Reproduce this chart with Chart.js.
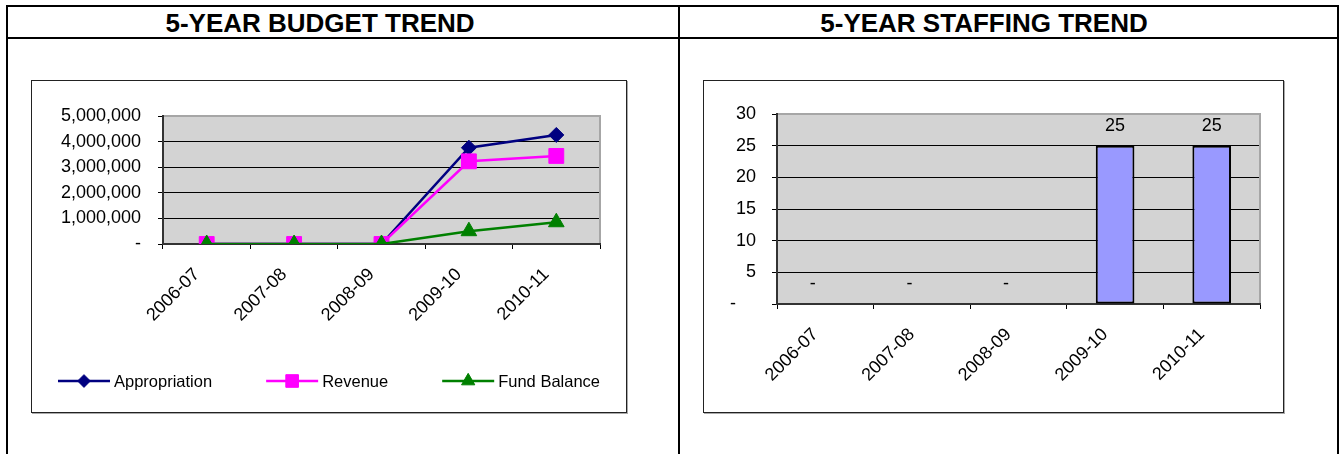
<!DOCTYPE html>
<html>
<head>
<meta charset="utf-8">
<script src="https://cdn.jsdelivr.net/npm/chart.js@4.4.1/dist/chart.umd.min.js"></script>
<style>
  html, body { margin: 0; padding: 0; background: #fff; overflow: hidden; }
  body { width: 1340px; height: 454px; position: relative; font-family: 'Liberation Sans', Arial, sans-serif; }
  .frame { position: absolute; left: 6px; top: 5px; width: 1333px; height: 520px; border: 2px solid #000; border-bottom: none; box-sizing: border-box; }
  .hline { position: absolute; left: 6px; top: 37px; width: 1333px; height: 2px; background: #000; }
  .vline { position: absolute; left: 678px; top: 5px; width: 2px; height: 520px; background: #000; }
  .title { position: absolute; top: 8px; font-size: 26px; line-height: 30px; font-weight: bold; text-align: center; white-space: nowrap; }
  .box { position: absolute; top: 80px; height: 333px; border: 1px solid #222; box-sizing: border-box; box-shadow: 1px 1px 0 #aaa; background: #fff; }
  .box canvas { display: block; }
</style>
</head>
<body>
<div class="frame"></div>
<div class="hline"></div>
<div class="vline"></div>
<div class="title" style="left:7px;width:626px;">5-YEAR BUDGET TREND</div>
<div class="title" style="left:680px;width:608px;">5-YEAR STAFFING TREND</div>
<div class="box" style="left:31px;width:596px;"><canvas id="budgetChart" width="594" height="331"></canvas></div>
<div class="box" style="left:703px;width:581px;"><canvas id="staffChart" width="579" height="331"></canvas></div>

<script>
// ── Data ─────────────────────────────────────────────────────────────────
const years = ['2006-07', '2007-08', '2008-09', '2009-10', '2010-11'];
const appropriation = [0, 0, 0, 3760000, 4260000];
const revenue = [0, 0, 0, 3230000, 3440000];
const fundBalance = [0, 0, 0, 500000, 850000];
const staffing = [0, 0, 0, 25, 25];

const budgetMax = 5000000, budgetStep = 1000000;
const staffMax = 30, staffStep = 5;

// ── Defaults ─────────────────────────────────────────────────────────────
Chart.defaults.font.family = "'Liberation Sans', Arial, sans-serif";
Chart.defaults.font.size = 18;
Chart.defaults.color = '#000';
Chart.defaults.animation = false;

// gray plot area with a light frame on top/right, like the spreadsheet
const plotFrame = {
    id: 'plotFrame',
    beforeDraw(chart) {
        const { ctx, chartArea: a } = chart;
        ctx.save();
        ctx.fillStyle = '#d3d3d3';
        ctx.fillRect(a.left, a.top, a.right - a.left, a.bottom - a.top);
        ctx.restore();
    },
    beforeDatasetsDraw(chart) {
        const { ctx, chartArea: a } = chart;
        ctx.save();
        ctx.strokeStyle = '#a6a6a6';
        ctx.lineWidth = 2;
        ctx.beginPath();
        ctx.moveTo(a.left + 1, a.top);
        ctx.lineTo(a.right, a.top);
        ctx.lineTo(a.right, a.bottom - 1);
        ctx.stroke();
        ctx.restore();
    }
};

// legend drawn as line + marker, the way the sheet shows it
const lineLegend = {
    id: 'lineLegend',
    afterDraw(chart, args, opts) {
        const ctx = chart.ctx;
        const sets = chart.data.datasets;
        ctx.save();
        ctx.font = opts.font;
        const widths = sets.map(d => ctx.measureText(d.label).width);
        const total = widths.reduce((s, w) => s + w, 0) +
            sets.length * (opts.lineLen + opts.textGap) + (sets.length - 1) * opts.itemGap;
        let x = (chart.width - total) / 2;
        const y = opts.y;
        sets.forEach((d, i) => {
            ctx.strokeStyle = d.borderColor;
            ctx.lineWidth = d.borderWidth;
            ctx.beginPath();
            ctx.moveTo(x, y);
            ctx.lineTo(x + opts.lineLen, y);
            ctx.stroke();
            ctx.fillStyle = d.borderColor;
            ctx.lineWidth = 1;
            Chart.helpers.drawPoint(ctx, { pointStyle: d.pointStyle, radius: d.pointRadius * 0.85, borderWidth: 1, rotation: 0 }, x + opts.lineLen / 2, y);
            ctx.fillStyle = '#000';
            ctx.textAlign = 'left';
            ctx.textBaseline = 'middle';
            ctx.fillText(d.label, x + opts.lineLen + opts.textGap, y + 1);
            x += opts.lineLen + opts.textGap + widths[i] + opts.itemGap;
        });
        ctx.restore();
    }
};

// value labels above bars ("-" for zero, accounting style)
const barLabels = {
    id: 'barLabels',
    afterDatasetsDraw(chart, args, opts) {
        const ctx = chart.ctx;
        const meta = chart.getDatasetMeta(0);
        const vals = chart.data.datasets[0].data;
        ctx.save();
        ctx.font = opts.font;
        ctx.fillStyle = '#000';
        ctx.textAlign = 'center';
        ctx.textBaseline = 'middle';
        meta.data.forEach((bar, i) => {
            const v = vals[i];
            ctx.fillText(v === 0 ? '-     ' : String(v), bar.x, bar.y - opts.lift);
        });
        ctx.restore();
    }
};

// ── Budget line chart ────────────────────────────────────────────────────
new Chart(document.getElementById('budgetChart'), {
    type: 'line',
    data: {
        labels: years,
        datasets: [
            { label: 'Appropriation', data: appropriation, borderColor: '#000080', backgroundColor: '#000080',
              borderWidth: 2.5, pointStyle: 'rectRot', pointRadius: 7.5, pointBorderWidth: 1, order: 3 },
            { label: 'Revenue', data: revenue, borderColor: '#ff00ff', backgroundColor: '#ff00ff',
              borderWidth: 2.5, pointStyle: 'rect', pointRadius: 10.5, pointBorderWidth: 1, order: 2 },
            { label: 'Fund Balance', data: fundBalance, borderColor: '#008000', backgroundColor: '#008000',
              borderWidth: 2.5, pointStyle: 'triangle', pointRadius: 9, pointBorderWidth: 1, order: 1 }
        ]
    },
    options: {
        responsive: false,
        devicePixelRatio: 1,
        layout: { padding: { top: 35, right: 26, left: 0, bottom: 0 } },
        plugins: {
            legend: { display: false },
            tooltip: { enabled: false },
            lineLegend: { font: "16.5px 'Liberation Sans', Arial, sans-serif", y: 300, lineLen: 52, textGap: 4, itemGap: 54 }
        },
        scales: {
            x: {
                offset: true,
                ticks: { minRotation: 45, maxRotation: 45, autoSkip: false, padding: 15, labelOffset: -10 },
                grid: { offset: true, drawOnChartArea: false, tickLength: 5, color: '#000' },
                border: { color: '#333', width: 2 },
                afterFit: s => { s.height = 168; }
            },
            y: {
                min: 0, max: budgetMax,
                ticks: { stepSize: budgetStep, padding: 17, callback: v => v === 0 ? '-' : v.toLocaleString('en-US') },
                grid: { color: '#000', lineWidth: 1, tickLength: 5 },
                border: { color: '#333', width: 2 },
                afterFit: s => { s.width = 131; }
            }
        }
    },
    plugins: [plotFrame, lineLegend]
});

// ── Staffing bar chart ───────────────────────────────────────────────────
new Chart(document.getElementById('staffChart'), {
    type: 'bar',
    data: {
        labels: years,
        datasets: [{
            label: 'Staffing',
            data: staffing,
            backgroundColor: '#9999ff',
            borderColor: '#000',
            borderWidth: c => c.raw ? 2 : 0,
            borderSkipped: false,
            barPercentage: 0.4,
            categoryPercentage: 1
        }]
    },
    options: {
        responsive: false,
        devicePixelRatio: 1,
        layout: { padding: { top: 33, right: 23, left: 0, bottom: 0 } },
        plugins: {
            legend: { display: false },
            tooltip: { enabled: false },
            barLabels: { font: "18px 'Liberation Sans', Arial, sans-serif", lift: 20 }
        },
        scales: {
            x: {
                ticks: { minRotation: 45, maxRotation: 45, autoSkip: false, padding: 15, labelOffset: -10 },
                grid: { offset: true, drawOnChartArea: false, tickLength: 5, color: '#000' },
                border: { color: '#333', width: 2 },
                afterFit: s => { s.height = 108; }
            },
            y: {
                min: 0, max: staffMax,
                ticks: { stepSize: staffStep, padding: 16, callback: v => v === 0 ? '-    ' : String(v) },
                grid: { color: '#000', lineWidth: 1, tickLength: 5 },
                border: { color: '#333', width: 2 },
                afterFit: s => { s.width = 73; }
            }
        }
    },
    plugins: [plotFrame, barLabels]
});
</script>
</body>
</html>
